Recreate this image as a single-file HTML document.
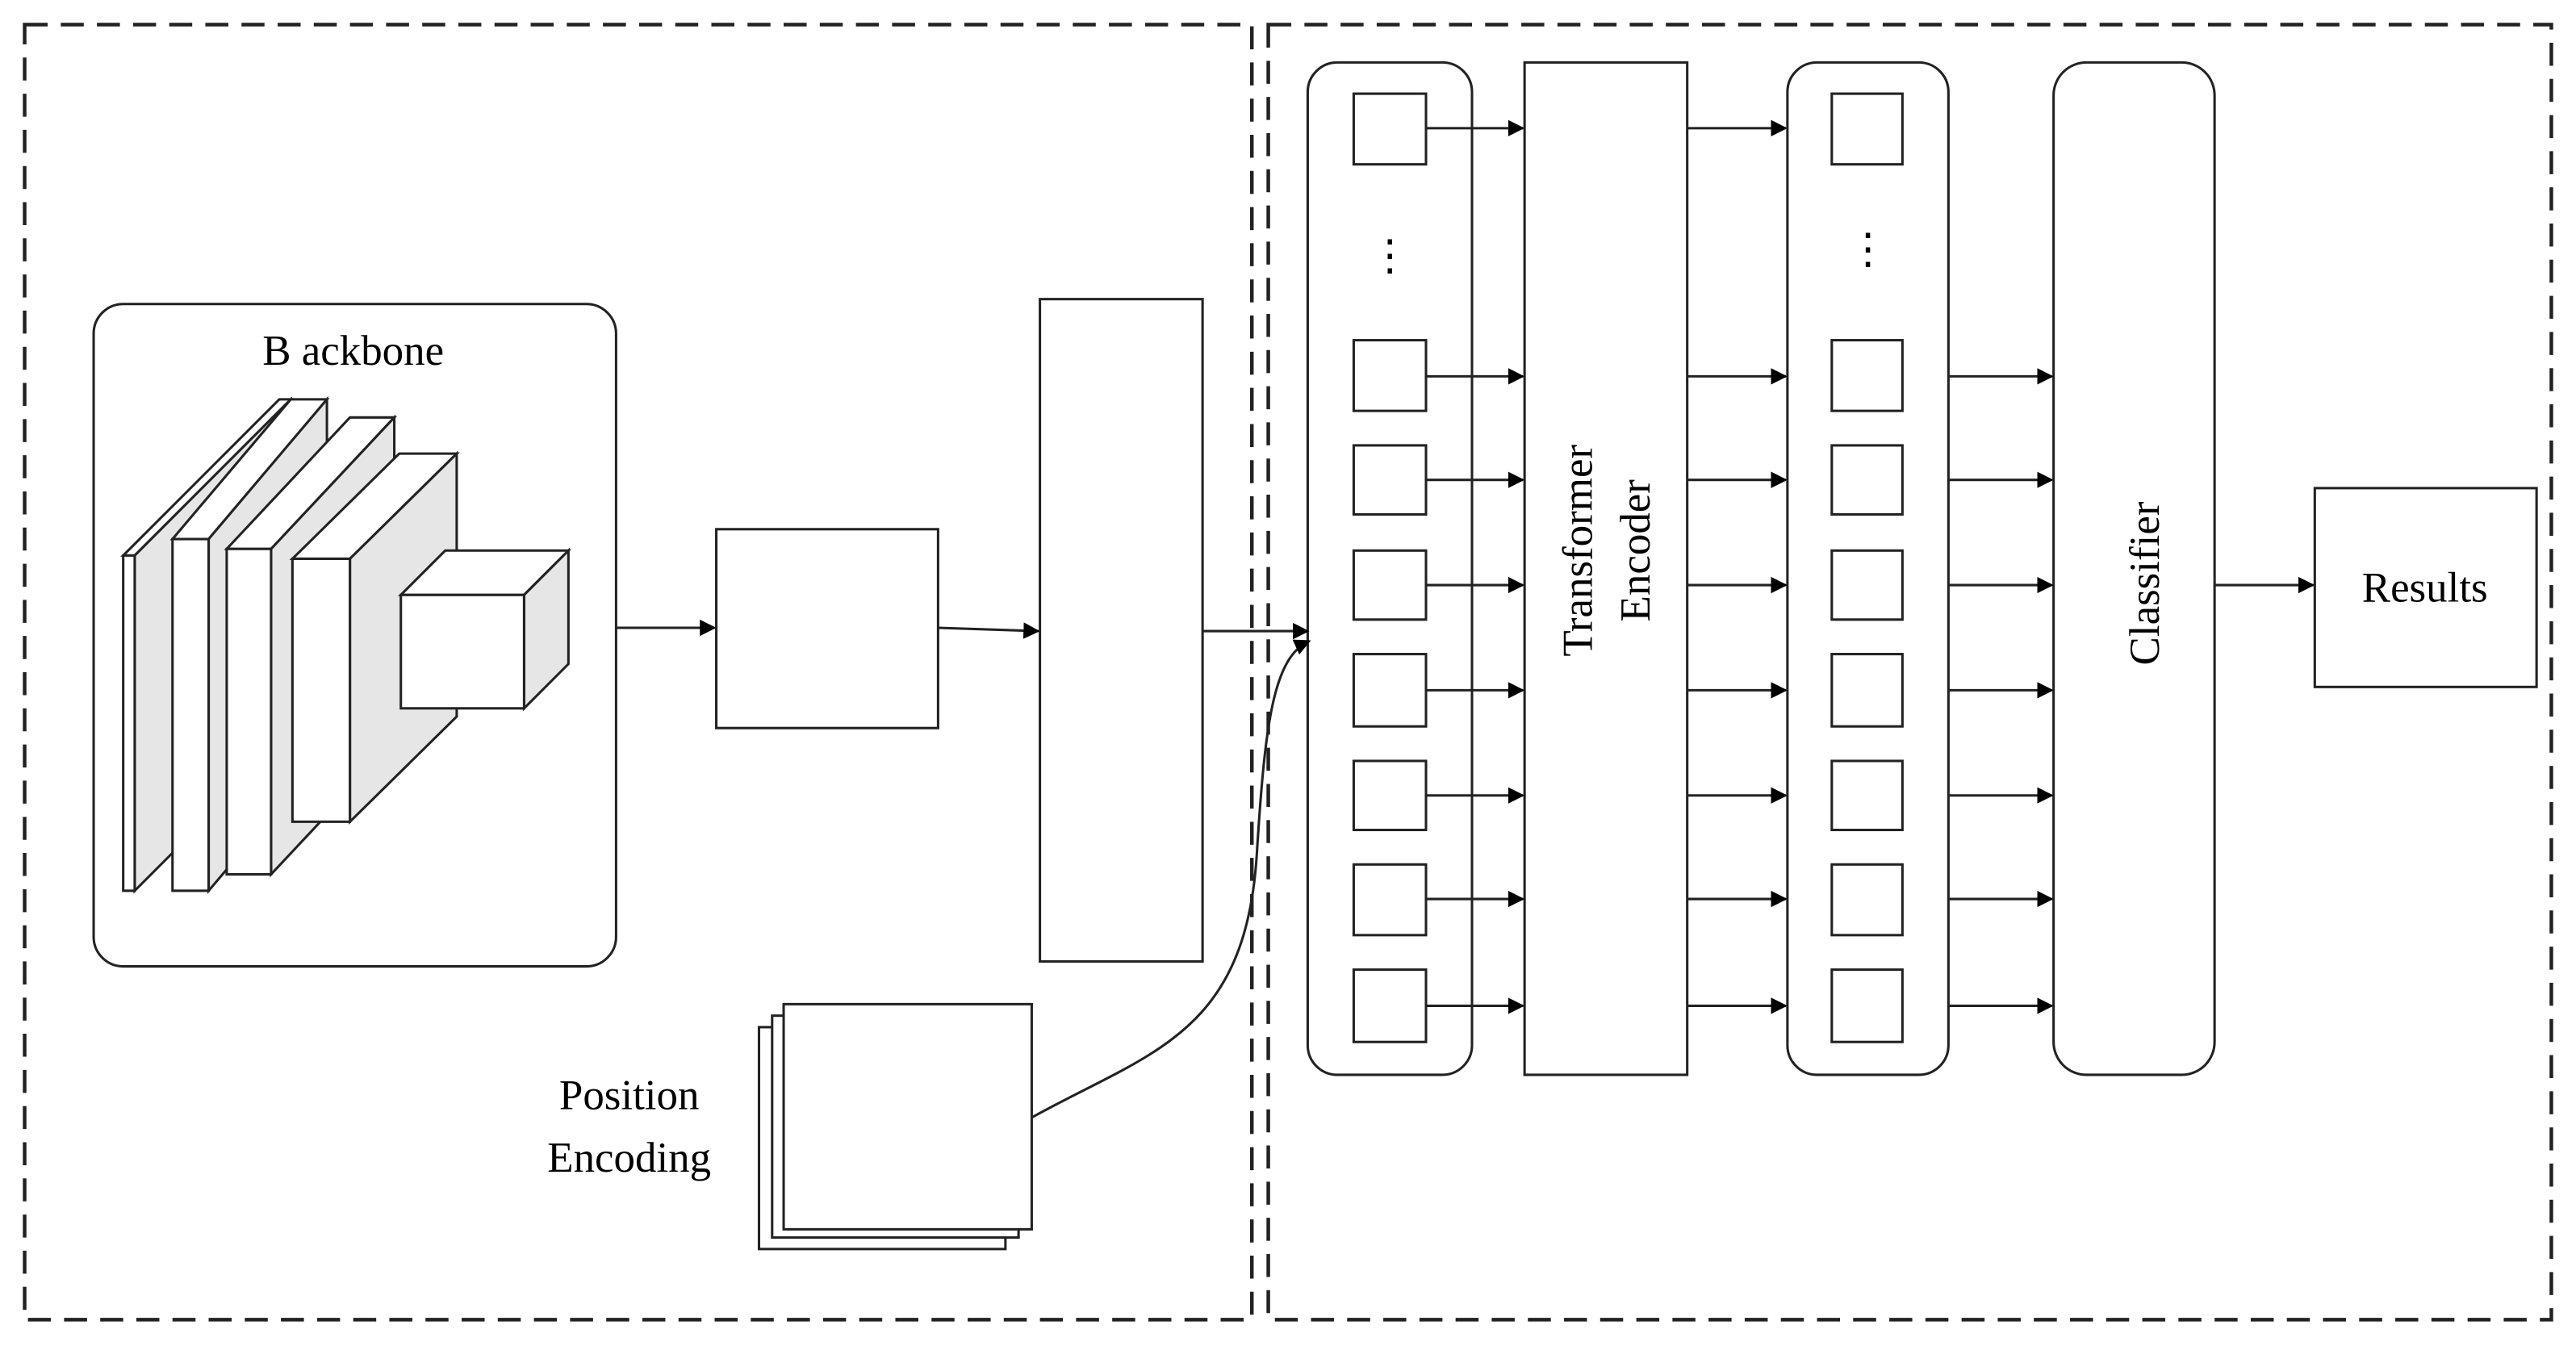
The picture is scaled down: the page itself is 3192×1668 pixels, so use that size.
<!DOCTYPE html>
<html><head><meta charset="utf-8"><style>
html,body{margin:0;padding:0;background:#fff}
svg{display:block}
text{font-family:"Liberation Serif",serif;fill:#000}
</style></head><body>
<svg width="3192" height="1668" viewBox="0 0 1568 819" preserveAspectRatio="none" xmlns="http://www.w3.org/2000/svg">
<defs>
<marker id="a" markerWidth="10" markerHeight="10" refX="9" refY="5" orient="auto" markerUnits="userSpaceOnUse" viewBox="0 0 10 10">
<path d="M0,0 L10,5 L0,10 z" fill="#000"/>
</marker>
</defs>
<g fill="none" stroke="#222" stroke-width="2.2" stroke-dasharray="14 8">
<rect x="15" y="15" width="747" height="788"/>
<rect x="772" y="15" width="781" height="788"/>
</g>
<g stroke="#222" stroke-width="1.5" fill="#fff">
<rect x="57" y="185" width="318" height="403" rx="18"/>
<!-- slab1 -->
<polygon points="75,338 170,243 177,243 82,338"/>
<polygon points="82,338 177,243 177,447 82,542" fill="#e6e6e6"/>
<rect x="75" y="338" width="7" height="204"/>
<!-- slab2 -->
<polygon points="105,328 177,243 199,243 127,328"/>
<polygon points="127,328 199,243 199,457 127,542" fill="#e6e6e6"/>
<rect x="105" y="328" width="22" height="214"/>
<!-- slab3 -->
<polygon points="138,334 213,254 240,254 165,334"/>
<polygon points="165,334 240,254 240,452 165,532" fill="#e6e6e6"/>
<rect x="138" y="334" width="27" height="198"/>
<!-- slab4 -->
<polygon points="178,340 243,276 278,276 213,340"/>
<polygon points="213,340 278,276 278,436 213,500" fill="#e6e6e6"/>
<rect x="178" y="340" width="35" height="160"/>
<!-- cube -->
<polygon points="244,362 271,335 346,335 319,362"/>
<polygon points="319,362 346,335 346,404 319,431" fill="#e6e6e6"/>
<rect x="244" y="362" width="75" height="69"/>
<rect x="436" y="322" width="135" height="121"/>
<rect x="633" y="182" width="99" height="403"/>
<rect x="462" y="625" width="150" height="135"/>
<rect x="470" y="618" width="150" height="135"/>
<rect x="477" y="611" width="151" height="137"/>
<rect x="796" y="38" width="100" height="616" rx="18"/>
<rect x="928" y="38" width="99" height="616"/>
<rect x="1088" y="38" width="98" height="616" rx="18"/>
<rect x="1250" y="38" width="98" height="616" rx="20"/>
<rect x="1409" y="297" width="135" height="121"/>
</g>
<g stroke="#222" stroke-width="1.5" fill="#fff">
<rect x="824" y="57" width="44" height="43"/>
<rect x="824" y="207" width="44" height="43"/>
<rect x="824" y="271" width="44" height="42"/>
<rect x="824" y="335" width="44" height="42"/>
<rect x="824" y="398" width="44" height="44"/>
<rect x="824" y="463" width="44" height="42"/>
<rect x="824" y="526" width="44" height="43"/>
<rect x="824" y="590" width="44" height="44"/>
<rect x="1115" y="57" width="43" height="43"/>
<rect x="1115" y="207" width="43" height="43"/>
<rect x="1115" y="271" width="43" height="42"/>
<rect x="1115" y="335" width="43" height="42"/>
<rect x="1115" y="398" width="43" height="44"/>
<rect x="1115" y="463" width="43" height="42"/>
<rect x="1115" y="526" width="43" height="43"/>
<rect x="1115" y="590" width="43" height="44"/>
</g>
<g stroke="#222" stroke-width="1.5" fill="none" marker-end="url(#a)">
<line x1="375" y1="382" x2="435" y2="382"/>
<line x1="571" y1="382" x2="632" y2="384"/>
<line x1="732" y1="384" x2="796" y2="384"/>
<path d="M628,680 C700,640 758,630 765,520 C770,440 775,400 797,390"/>
<line x1="868" y1="78" x2="927" y2="78"/>
<line x1="868" y1="229" x2="927" y2="229"/>
<line x1="868" y1="292" x2="927" y2="292"/>
<line x1="868" y1="356" x2="927" y2="356"/>
<line x1="868" y1="420" x2="927" y2="420"/>
<line x1="868" y1="484" x2="927" y2="484"/>
<line x1="868" y1="547" x2="927" y2="547"/>
<line x1="868" y1="612" x2="927" y2="612"/>
<line x1="1027" y1="78" x2="1087" y2="78"/>
<line x1="1027" y1="229" x2="1087" y2="229"/>
<line x1="1027" y1="292" x2="1087" y2="292"/>
<line x1="1027" y1="356" x2="1087" y2="356"/>
<line x1="1027" y1="420" x2="1087" y2="420"/>
<line x1="1027" y1="484" x2="1087" y2="484"/>
<line x1="1027" y1="547" x2="1087" y2="547"/>
<line x1="1027" y1="612" x2="1087" y2="612"/>
<line x1="1186" y1="229" x2="1249" y2="229"/>
<line x1="1186" y1="292" x2="1249" y2="292"/>
<line x1="1186" y1="356" x2="1249" y2="356"/>
<line x1="1186" y1="420" x2="1249" y2="420"/>
<line x1="1186" y1="484" x2="1249" y2="484"/>
<line x1="1186" y1="547" x2="1249" y2="547"/>
<line x1="1186" y1="612" x2="1249" y2="612"/>
<line x1="1348" y1="356" x2="1408" y2="356"/>
</g>
<text x="215" y="222" font-size="26" text-anchor="middle">B ackbone</text>
<text x="383" y="675" font-size="26" text-anchor="middle">Position</text>
<text x="383" y="713" font-size="26" text-anchor="middle">Encoding</text>
<text x="1476" y="366" font-size="26" text-anchor="middle">Results</text>
<text transform="translate(969,335) rotate(-90)" font-size="26" text-anchor="middle">Transformer</text>
<text transform="translate(1004,335) rotate(-90)" font-size="26" text-anchor="middle">Encoder</text>
<text transform="translate(1314,355) rotate(-90)" font-size="26" text-anchor="middle">Classifier</text>
<text x="846" y="164" font-size="26" text-anchor="middle">⋮</text>
<text x="1137" y="160" font-size="26" text-anchor="middle">⋮</text>
</svg>
</body></html>
